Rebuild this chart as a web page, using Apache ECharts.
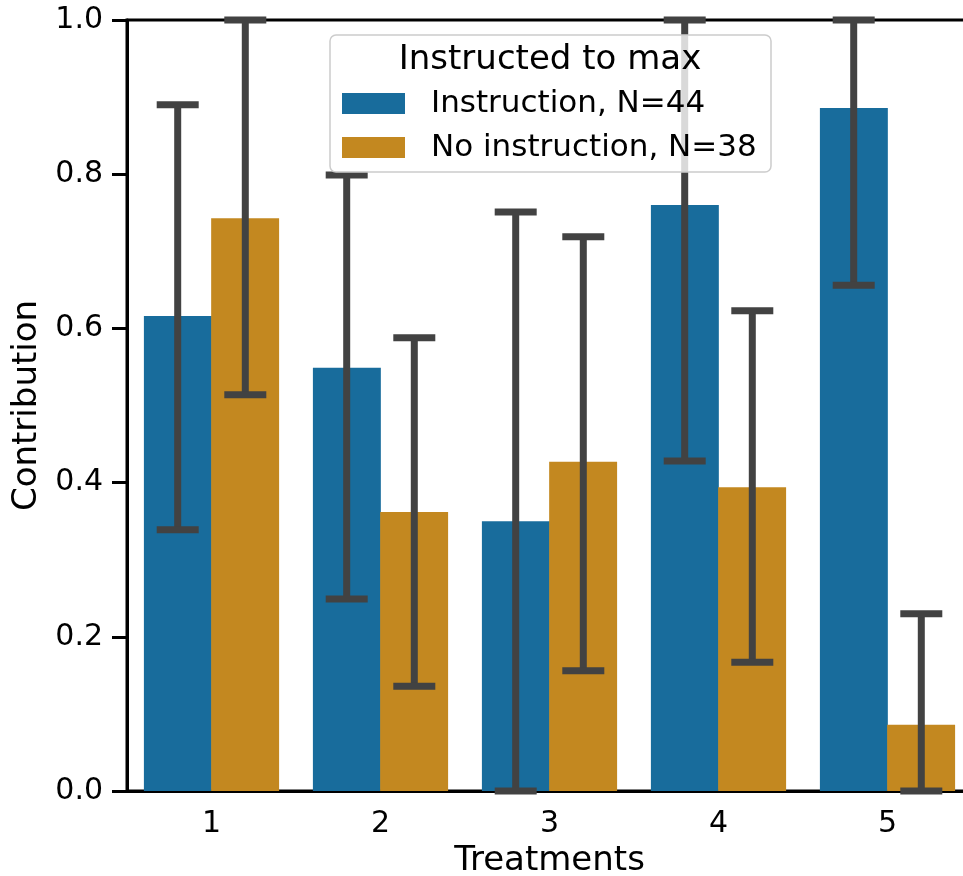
<!DOCTYPE html>
<html><head><meta charset="utf-8">
<script src="https://cdn.jsdelivr.net/npm/echarts@6/dist/echarts.min.js"></script>
<style>html,body{margin:0;padding:0;background:#fff}#c{width:963px;height:876px}</style>
</head><body><div id="c"></div>
<script>
const categories = ['1','2','3','4','5'];
const seriesNames = ['Instruction, N=44','No instruction, N=38'];
const instructionMean = [0.616,0.549,0.350,0.760,0.886];
const instructionLow  = [0.339,0.249,0.000,0.428,0.656];
const instructionHigh = [0.890,0.799,0.751,1.000,1.000];
const noInstructionMean = [0.743,0.362,0.427,0.394,0.086];
const noInstructionLow  = [0.514,0.136,0.156,0.167,0.000];
const noInstructionHigh = [1.000,0.588,0.719,0.623,0.230];
const legendTitle = 'Instructed to max';

const FONT = 'DejaVu Sans';
const BLUE = '#186c9c', ORANGE = '#c38820', ERR = '#424242';

const errData = [];
categories.forEach((c,i)=>{
  errData.push([i, instructionLow[i], instructionHigh[i], 0]);
  errData.push([i, noInstructionLow[i], noInstructionHigh[i], 1]);
});

const chart = echarts.init(document.getElementById('c'), null, {renderer:'canvas'});
chart.setOption({
  animation:false,
  backgroundColor:'#fff',
  grid:{left:127, top:20, width:845, height:771, containLabel:false, outerBoundsMode:'none',
    show:true, borderColor:'#000', borderWidth:3, backgroundColor:'transparent'},
  xAxis:{type:'category', data:categories,
    name:'Treatments', nameLocation:'middle', nameGap:50,
    nameTextStyle:{fontFamily:FONT, fontSize:34, color:'#000'},
    axisLine:{lineStyle:{color:'#000', width:3}},
    axisTick:{alignWithLabel:true, length:15, lineStyle:{width:3, color:'#000'}},
    axisLabel:{fontFamily:FONT, fontSize:30, color:'#000', margin:18}},
  yAxis:{type:'value', min:0, max:1, interval:0.2,
    name:'Contribution', nameLocation:'middle', nameGap:72,
    nameTextStyle:{fontFamily:FONT, fontSize:34, color:'#000'},
    axisLine:{show:true, lineStyle:{color:'#000', width:3}},
    axisTick:{show:true, length:15, lineStyle:{width:3, color:'#000'}},
    splitLine:{show:false},
    axisLabel:{fontFamily:FONT, fontSize:30, color:'#000', margin:24, formatter:v=>v.toFixed(1)}},
  legend:{data:seriesNames, orient:'vertical', left:342, top:88, itemWidth:63, itemHeight:21, itemGap:13,
    padding:0, icon:'rect', z:4,
    textStyle:{fontFamily:FONT, fontSize:31, color:'#000', lineHeight:28, padding:[0,0,0,21]}},
  graphic:[
    {type:'rect', z:3, shape:{x:330, y:35, width:441, height:137, r:6},
     style:{fill:'rgba(255,255,255,0.8)', stroke:'#cccccc', lineWidth:1.5}},
    {type:'text', z:5, x:550, y:60, style:{text:legendTitle, font:'34px "DejaVu Sans"', fill:'#000', textAlign:'center', textVerticalAlign:'middle'}}
  ],
  series:[
    {name:seriesNames[0], type:'bar', data:instructionMean, barGap:'-1%', barCategoryGap:'20%', itemStyle:{color:BLUE}},
    {name:seriesNames[1], type:'bar', data:noInstructionMean, barGap:'-1%', barCategoryGap:'20%', itemStyle:{color:ORANGE}},
    {name:'err', type:'custom', data:errData, z:2.5,
     encode:{x:0, y:[1,2]},
     renderItem:(params, api)=>{
       const i = api.value(0), lo = api.value(1), hi = api.value(2), s = api.value(3);
       const band = api.size([1,0])[0];
       const off = (s===0?-1:1)*band*0.2;
       const pl = api.coord([i, lo]), ph = api.coord([i, hi]);
       const x = pl[0] + off;
       const cap = 21;
       const st = {stroke:ERR, lineWidth:7, lineCap:'butt'};
       return {type:'group', children:[
         {type:'line', shape:{x1:x, y1:pl[1], x2:x, y2:ph[1]}, style:st},
         {type:'line', shape:{x1:x-cap, y1:pl[1], x2:x+cap, y2:pl[1]}, style:st},
         {type:'line', shape:{x1:x-cap, y1:ph[1], x2:x+cap, y2:ph[1]}, style:st}
       ]};
     }}
  ]
});
</script></body></html>
